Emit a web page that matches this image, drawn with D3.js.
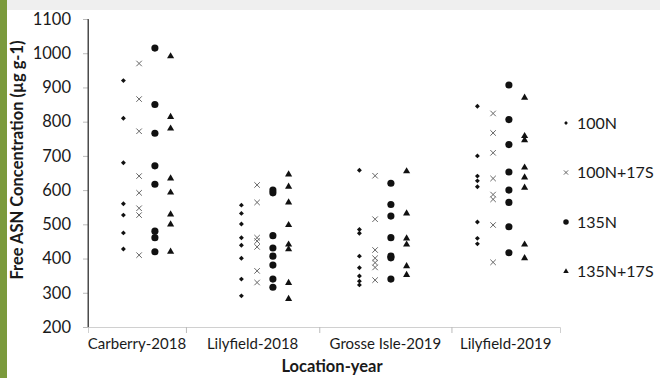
<!DOCTYPE html>
<html>
<head>
<meta charset="utf-8">
<script src="https://cdn.jsdelivr.net/npm/d3@7"></script>
<style>
  html, body { margin: 0; padding: 0; background: #fff; }
  #chart { width: 660px; height: 378px; }
  svg text { font-family: Lato, "Open Sans", sans-serif; fill: #1a1a1a; }
</style>
</head>
<body>
<div id="chart"></div>
<script>
// categories and series values (Free ASN, µg g-1)
const categories = ['Carberry-2018', 'Lilyfield-2018', 'Grosse Isle-2019', 'Lilyfield-2019'];
const seriesNames = ['100N', '100N+17S', '135N', '135N+17S'];

const n100 = [
  [920, 810, 680, 560, 527, 475, 428],
  [556, 532, 501, 461, 439, 401, 340, 291],
  [658, 485, 474, 407, 373, 349, 334, 323],
  [845, 700, 641, 627, 610, 507, 459, 443]
];
const n100s17 = [
  [970, 866, 772, 641, 592, 547, 527, 410],
  [615, 564, 461, 451, 434, 364, 330],
  [642, 515, 425, 401, 388, 374, 337],
  [824, 767, 709, 634, 587, 573, 498, 389]
];
const n135 = [
  [1015, 850, 766, 671, 617, 480, 461, 420],
  [600, 592, 467, 431, 407, 381, 340, 316],
  [620, 558, 524, 461, 407, 402, 340],
  [907, 806, 733, 653, 600, 564, 493, 417]
];
const n135s17 = [
  [991, 814, 780, 634, 593, 529, 500, 420],
  [646, 610, 564, 498, 441, 427, 329, 282],
  [655, 532, 459, 441, 378, 352],
  [870, 758, 746, 666, 637, 607, 441, 401]
];

const yTicks = [200, 300, 400, 500, 600, 700, 800, 900, 1000, 1100];
// category boundaries on the x axis (where the tick marks sit)
const xBounds = [0.5, 1.33, 2.46, 3.58, 4.5];

const width = 660, height = 378;
const margin = { top: 19, right: 100, bottom: 51, left: 88 };

const svg = d3.select('#chart').append('svg')
  .attr('width', width)
  .attr('height', height);

// page decorations
svg.append('rect').attr('x', 0).attr('y', 0).attr('width', width).attr('height', 10).attr('fill', '#efefef');
svg.append('rect').attr('x', 0).attr('y', 0).attr('width', 7).attr('height', height).attr('fill', '#7b9a3c');

const x = d3.scaleLinear()
  .domain([0.5, 4.5])
  .range([margin.left, width - margin.right]);

const y = d3.scaleLinear()
  .domain([200, 1100])
  .range([height - margin.bottom, margin.top]);

// custom "x" marker
const timesSymbol = {
  draw(context, size) {
    const r = Math.sqrt(size) / 2;
    context.moveTo(-r, -r); context.lineTo(r, r);
    context.moveTo(r, -r); context.lineTo(-r, r);
  }
};

const styles = [
  { data: n100, offset: -0.2, type: d3.symbolSquare, size: 12, rot: 45, fill: '#111', stroke: 'none' },
  { data: n100s17, offset: -0.067, type: timesSymbol, size: 30, rot: 0, fill: 'none', stroke: '#666' },
  { data: n135, offset: 0.067, type: d3.symbolCircle, size: 40, rot: 0, fill: '#111', stroke: 'none' },
  { data: n135s17, offset: 0.2, type: d3.symbolTriangle, size: 22, rot: 0, fill: '#111', stroke: 'none' }
];

// axes
const yAxis = svg.append('g')
  .attr('transform', `translate(${margin.left},0)`)
  .call(d3.axisLeft(y).tickValues(yTicks).tickSize(5).tickPadding(12).tickFormat(d3.format('d')));
yAxis.select('.domain').attr('stroke', '#555');
yAxis.selectAll('.tick line').attr('stroke', '#bbb');
yAxis.selectAll('text').style('font-size', '16.5px').attr('fill', '#1a1a1a');

const xAxis = svg.append('g')
  .attr('transform', `translate(0,${y(200)})`)
  .call(d3.axisBottom(x).tickValues(xBounds.slice(1, -1)).tickSize(6).tickFormat(''));
xAxis.select('.domain').attr('stroke', '#d0d0d0');
xAxis.selectAll('.tick line').attr('stroke', '#bbb');
// redraw y axis line on top
svg.append('line')
  .attr('x1', margin.left).attr('x2', margin.left)
  .attr('y1', y(1100)).attr('y2', y(200))
  .attr('stroke', '#444');

// category labels centered between boundaries
svg.append('g').selectAll('text')
  .data(categories)
  .join('text')
  .attr('x', (d, i) => x((xBounds[i] + xBounds[i + 1]) / 2))
  .attr('y', 349)
  .attr('text-anchor', 'middle')
  .style('font-size', '15px')
  .text(d => d);

// axis titles
svg.append('text')
  .attr('x', 332)
  .attr('y', 372)
  .attr('text-anchor', 'middle')
  .style('font-size', '16.5px')
  .style('font-weight', 'bold')
  .text('Location-year');

svg.append('text')
  .attr('transform', 'translate(23,160) rotate(-90)')
  .attr('text-anchor', 'middle')
  .style('font-size', '16.5px')
  .style('font-weight', 'bold')
  .text('Free ASN Concentration (µg g-1)');

// points
styles.forEach(s => {
  const sym = d3.symbol().type(s.type).size(s.size);
  const pts = s.data.flatMap((vals, ci) => vals.map(v => ({ cx: ci + 1 + s.offset, v })));
  svg.append('g').selectAll('path')
    .data(pts)
    .join('path')
    .attr('d', sym)
    .attr('transform', d => `translate(${x(d.cx)},${y(d.v)}) rotate(${s.rot})`)
    .attr('fill', s.fill)
    .attr('stroke', s.stroke)
    .attr('stroke-width', 1);
});

// legend
const legend = svg.append('g').attr('transform', 'translate(566,123)');
const legendItems = legend.selectAll('g')
  .data(seriesNames)
  .join('g')
  .attr('transform', (d, i) => `translate(0,${i * 49.5})`);
legendItems.append('path')
  .attr('d', (d, i) => d3.symbol().type(styles[i].type).size(styles[i].size * 0.6)())
  .attr('transform', (d, i) => `rotate(${styles[i].rot})`)
  .attr('fill', (d, i) => styles[i].fill)
  .attr('stroke', (d, i) => styles[i].stroke);
legendItems.append('text')
  .attr('x', 11)
  .attr('dy', '0.35em')
  .style('font-size', '16px')
  .text(d => d);
</script>
</body>
</html>
